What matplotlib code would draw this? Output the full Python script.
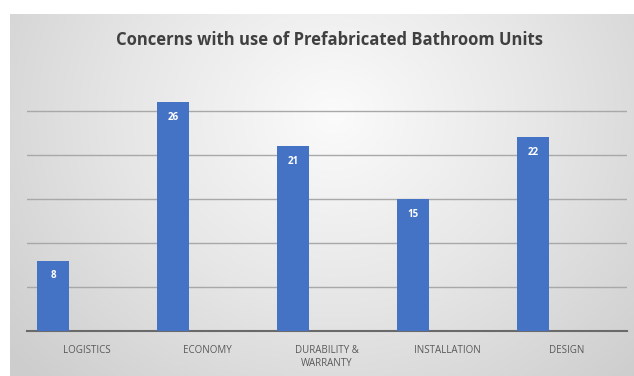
import numpy as np
import matplotlib
matplotlib.use("Agg")
import matplotlib.pyplot as plt
from matplotlib.colors import LinearSegmentedColormap

# chart data
categories = ["LOGISTICS", "ECONOMY", "DURABILITY &\nWARRANTY", "INSTALLATION", "DESIGN"]
values = [8, 26, 21, 15, 22]
yticks = [0, 5, 10, 15, 20, 25]

W, H = 634, 376
fig = plt.figure(figsize=(W / 100, H / 100), dpi=100, facecolor="white")

# gray radial background of the chart frame
bg = fig.add_axes([10 / W, 0, 1 - 10 / W, (H - 14) / H])
gx, gy = np.meshgrid(np.linspace(0, 1, 300), np.linspace(0, 1, 200))
r = np.sqrt(((gx - 0.52) / 0.62) ** 2 + ((gy - 0.72) / 0.95) ** 2)
cmap = LinearSegmentedColormap.from_list("bg", ["#fbfbfb", "#e6e6e6", "#cdcdcd"])
bg.imshow(r, cmap=cmap, aspect="auto", origin="lower", extent=[0, 1, 0, 1],
          vmin=0, vmax=1.1)
bg.set_axis_off()

ax = fig.add_axes([27 / W, (H - 331) / H, 600 / W, (331 - 67) / H])
ax.set_facecolor("none")

x = np.arange(len(categories))
bw = 0.267
bars = ax.bar(x - 0.283, values, width=bw, color="#4472C4", zorder=3)

for b, v in zip(bars, values):
    ax.annotate(str(v), (b.get_x() + b.get_width() / 2, v), xytext=(0, -11),
                textcoords="offset points", ha="center", va="center",
                color="white", fontsize=7, fontweight="bold", family="Open Sans")

ax.set_xlim(-0.5, len(categories) - 0.5)
ax.set_ylim(0, 30)
ax.set_yticks(yticks[1:])
ax.yaxis.grid(True, color="#a8a8a8", linewidth=1.0, zorder=0)
ax.tick_params(axis="y", left=False, labelleft=False)
ax.set_xticks(x)
ax.set_xticklabels(categories, fontsize=7, color="#595959", family="Open Sans",
                   linespacing=1.3)
ax.tick_params(axis="x", length=0, pad=10)
for side in ["top", "right", "left"]:
    ax.spines[side].set_visible(False)
ax.spines["bottom"].set_color("#6a6a6a")
ax.spines["bottom"].set_linewidth(1.5)

fig.text(330 / W, 1 - 40 / H, "Concerns with use of Prefabricated Bathroom Units",
         ha="center", va="center", fontsize=12, fontweight="bold",
         color="#404040", family="Open Sans")

fig.savefig("out.png", dpi=100, facecolor="white")
